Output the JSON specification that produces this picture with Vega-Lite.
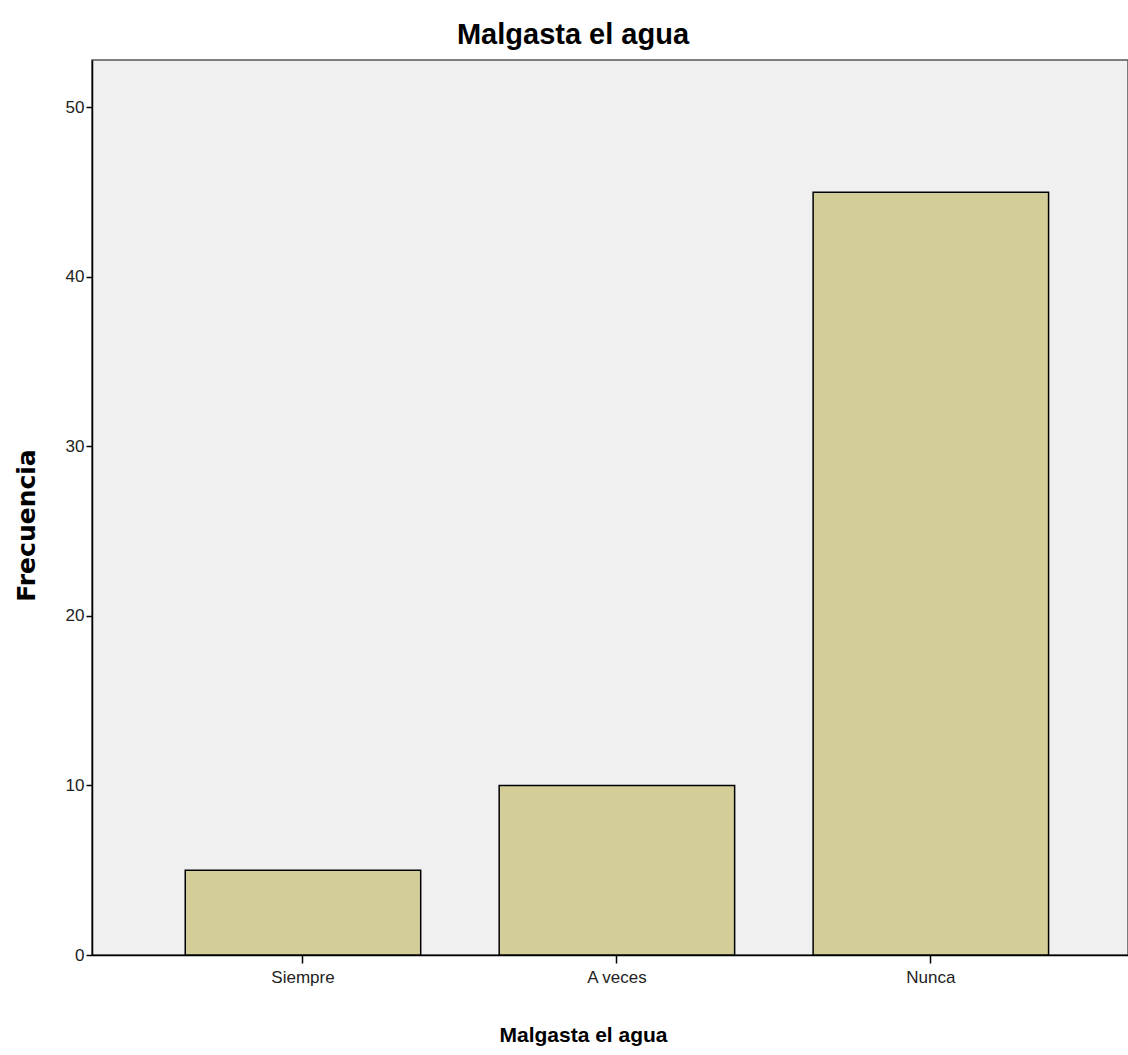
{
  "$schema": "https://vega.github.io/schema/vega-lite/v6.json",
  "width": 1036,
  "height": 895,
  "autosize": {"type": "none"},
  "padding": {"left": 92, "top": 60, "right": 0, "bottom": 100},
  "background": "white",
  "title": {
    "text": "Malgasta el agua",
    "font": "Liberation Sans, Arial, sans-serif",
    "fontSize": 29,
    "fontWeight": "bold",
    "color": "#000000",
    "anchor": "middle",
    "dx": -37,
    "offset": 10
  },
  "config": {
    "view": {"fill": "#f0f0f0", "stroke": "#555555", "strokeWidth": 1.5},
    "axis": {"grid": false, "domainColor": "#000000", "tickColor": "#000000", "labelColor": "#222222", "labelFont": "Liberation Sans, Arial, sans-serif", "titleFont": "Liberation Sans, Arial, sans-serif", "titleColor": "#000000"}
  },
  "data": {
    "values": [
      {"categoria": "Siempre", "frecuencia": 5},
      {"categoria": "A veces", "frecuencia": 10},
      {"categoria": "Nunca", "frecuencia": 45}
    ]
  },
  "mark": {"type": "bar", "color": "#d3ce97", "stroke": "#000000", "strokeWidth": 1.5},
  "encoding": {
    "x": {
      "field": "categoria",
      "type": "nominal",
      "sort": ["Siempre", "A veces", "Nunca"],
      "scale": {"paddingInner": 0.25, "paddingOuter": 0.275, "align": 0.54},
      "axis": {
        "title": "Malgasta el agua",
        "titleFontSize": 21,
        "titleFontWeight": "bold",
        "titleAnchor": "start",
        "titleAlign": "center",
        "titleX": 491,
        "titleY": 69,
        "labelAngle": 0,
        "labelFontSize": 17,
        "labelPadding": 6,
        "tickSize": 8,
        "domainWidth": 1.5,
        "tickWidth": 1.5
      }
    },
    "y": {
      "field": "frecuencia",
      "type": "quantitative",
      "scale": {"domain": [0, 52.8], "nice": false},
      "axis": {
        "title": "Frecuencia",
        "titleFont": "DejaVu Sans, Liberation Sans, sans-serif",
        "titleFontSize": 25,
        "titleFontWeight": "bold",
        "titleX": -58,
        "titleY": 465,
        "titleAlign": "center",
        "titleBaseline": "alphabetic",
        "values": [0, 10, 20, 30, 40, 50],
        "labelFontSize": 17,
        "labelPadding": 2,
        "tickSize": 6,
        "domainWidth": 1.5,
        "tickWidth": 1.5
      }
    }
  }
}
